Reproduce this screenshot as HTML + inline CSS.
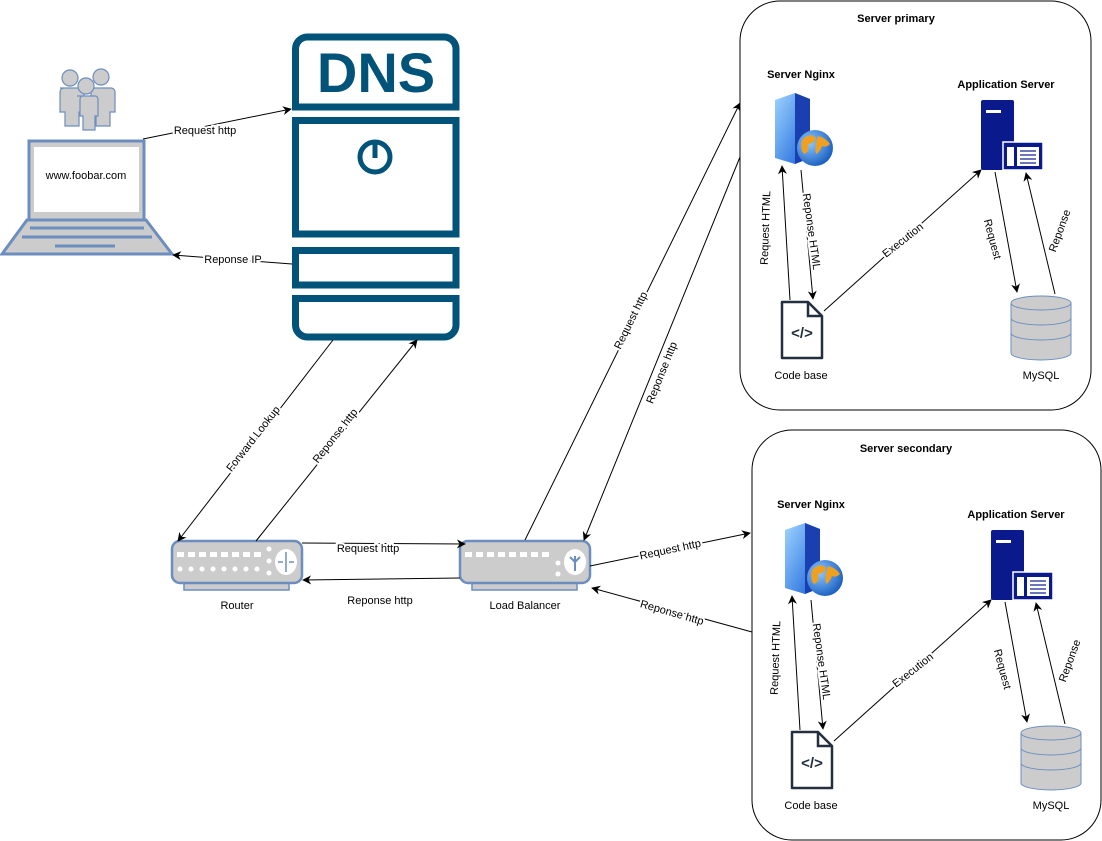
<!DOCTYPE html>
<html><head><meta charset="utf-8"><style>
html,body{margin:0;padding:0;background:#fff}
svg{display:block}
text{font-family:"Liberation Sans",sans-serif;font-size:11px;fill:#000}
.b{font-weight:bold}
.lb{paint-order:stroke;stroke:#fff;stroke-width:4px}
</style></head><body>
<svg width="1102" height="841" viewBox="0 0 1102 841" xmlns="http://www.w3.org/2000/svg">
<defs>
<marker id="a" viewBox="0 0 10 10" refX="9" refY="5" markerWidth="9" markerHeight="9" orient="auto" markerUnits="userSpaceOnUse">
<path d="M0,0 L10,5 L0,10 L3,5 z" fill="#000"/></marker>
<linearGradient id="tw" x1="0" y1="0" x2="1" y2="1"><stop offset="0" stop-color="#9fd4ff"/><stop offset="1" stop-color="#1560d8"/></linearGradient>
<radialGradient id="gl" cx="0.35" cy="0.35" r="0.7"><stop offset="0" stop-color="#8ec9ff"/><stop offset="1" stop-color="#1a5fc0"/></radialGradient>
</defs>

<!-- Users -->
<g fill="#ccc" stroke="#6c8ebf" stroke-width="1.2">
<circle cx="70" cy="78" r="8"/><path d="M60,88 h20 a4,4 0 0 1 4,4 v20 h-5 v14 h-14 v-14 h-5 v-20 a4,4 0 0 1 4,-4z"/>
<circle cx="101" cy="77" r="8"/><path d="M91,88 h20 a4,4 0 0 1 4,4 v20 h-5 v14 h-14 v-14 h-5 v-20 a4,4 0 0 1 4,-4z"/>
<circle cx="86" cy="86" r="8"/><path d="M77,96 h18 a3,3 0 0 1 3,3 v17 h-3 v14 h-12 v-14 h-3 v-17 a3,3 0 0 1 3,-3z"/>
</g>
<!-- Laptop -->
<g stroke="#6c8ebf" stroke-width="3" fill="#ccc">
<rect x="29" y="141" width="115" height="79"/>
<path d="M27,220 L146,220 L172,254 L2,254 Z"/>
</g>
<rect x="34" y="147" width="105" height="65" fill="#fff"/>
<g stroke="#6c8ebf" stroke-width="3"><line x1="30" y1="228" x2="144" y2="228"/><line x1="22" y1="237" x2="152" y2="237"/><line x1="55" y1="246" x2="115" y2="246"/></g>
<text x="86" y="179" text-anchor="middle">www.foobar.com</text>

<!-- DNS -->
<g fill="none" stroke="#02537a" stroke-width="7">
<path d="M295.5,107 V49 a12,12 0 0 1 12,-12 H444 a12,12 0 0 1 12,12 V107 Z"/>
<rect x="295.5" y="120.5" width="160.5" height="113.5"/>
<rect x="295.5" y="250.5" width="160.5" height="34.5"/>
<path d="M295.5,298.5 H456 V325 a12,12 0 0 1 -12,12 H307.5 a12,12 0 0 1 -12,-12 Z"/>
<circle cx="375" cy="157" r="15" stroke-width="5"/>
<line x1="375" y1="143" x2="375" y2="158" stroke-width="5"/>
</g>
<text x="376" y="92" text-anchor="middle" style="font-size:56px;font-weight:bold;fill:#02537a">DNS</text>

<!-- Router -->
<rect x="184" y="580" width="105" height="10" fill="#ccc" stroke="#6c8ebf" stroke-width="1.5"/>
<rect x="172" y="541" width="130" height="42" rx="8" fill="#ccc" stroke="#6c8ebf" stroke-width="2.5"/>
<g fill="#fff">
<rect x="177" y="552" width="7" height="5"/><rect x="188" y="552" width="7" height="5"/><rect x="199" y="552" width="7" height="5"/><rect x="210" y="552" width="7" height="5"/><rect x="221" y="552" width="7" height="5"/><rect x="232" y="552" width="7" height="5"/><rect x="243" y="552" width="7" height="5"/><rect x="254" y="552" width="7" height="5"/>
<circle cx="180" cy="569" r="2.5"/><circle cx="191" cy="569" r="2.5"/><circle cx="202" cy="569" r="2.5"/><circle cx="213" cy="569" r="2.5"/><circle cx="224" cy="569" r="2.5"/><circle cx="235" cy="569" r="2.5"/><circle cx="246" cy="569" r="2.5"/><circle cx="257" cy="569" r="2.5"/>
<circle cx="269" cy="549" r="2.5"/><circle cx="269" cy="561" r="2.5"/><circle cx="269" cy="573" r="2.5"/>
<ellipse cx="286" cy="562" rx="11" ry="13"/></g>
<g stroke="#6c8ebf" stroke-width="1.5" fill="none"><line x1="286" y1="552" x2="286" y2="572"/><path d="M278,562 h5 M294,562 h-5"/></g>
<text x="237" y="609" text-anchor="middle">Router</text>

<!-- Load Balancer -->
<rect x="472" y="580" width="105" height="10" fill="#ccc" stroke="#6c8ebf" stroke-width="1.5"/>
<rect x="460" y="541" width="130" height="42" rx="8" fill="#ccc" stroke="#6c8ebf" stroke-width="2.5"/>
<g fill="#fff">
<rect x="465" y="552" width="7" height="5"/><rect x="476" y="552" width="7" height="5"/><rect x="487" y="552" width="7" height="5"/><rect x="498" y="552" width="7" height="5"/><rect x="509" y="552" width="7" height="5"/><rect x="520" y="552" width="7" height="5"/><rect x="531" y="552" width="7" height="5"/><rect x="542" y="552" width="7" height="5"/>
<circle cx="558" cy="563" r="2.5"/><circle cx="558" cy="574" r="2.5"/>
<ellipse cx="575" cy="562" rx="11" ry="13"/></g>
<g stroke="#6c8ebf" stroke-width="2" fill="none"><line x1="575" y1="556" x2="575" y2="571"/><path d="M575,562 l-5,-5 M575,562 l5,-5"/></g>
<text x="525" y="609" text-anchor="middle">Load Balancer</text>

<!-- main edges -->
<g stroke="#000" stroke-width="1" fill="none">
<line x1="143" y1="139" x2="291" y2="109" marker-end="url(#a)"/>
<line x1="292" y1="264" x2="173" y2="255" marker-end="url(#a)"/>
<line x1="333" y1="340" x2="178" y2="541" marker-end="url(#a)"/>
<line x1="256" y1="541" x2="417" y2="340" marker-end="url(#a)"/>
<line x1="302" y1="543" x2="465" y2="544" marker-end="url(#a)"/>
<line x1="460" y1="578" x2="303" y2="580" marker-end="url(#a)"/>
<line x1="525" y1="540" x2="740" y2="103" marker-end="url(#a)"/>
<line x1="740" y1="157" x2="584" y2="540" marker-end="url(#a)"/>
<line x1="590" y1="566" x2="750" y2="533" marker-end="url(#a)"/>
<line x1="752" y1="632" x2="592" y2="588" marker-end="url(#a)"/>
</g>
<text class="lb" x="205" y="134" text-anchor="middle">Request http</text>
<text class="lb" x="233" y="263" text-anchor="middle">Reponse IP</text>
<text class="lb" transform="translate(256,441) rotate(-52)" text-anchor="middle">Forward Lookup</text>
<text class="lb" transform="translate(338,438) rotate(-52)" text-anchor="middle">Reponse http</text>
<text class="lb" x="368" y="552" text-anchor="middle">Request http</text>
<text class="lb" x="380" y="604" text-anchor="middle">Reponse http</text>
<text class="lb" transform="translate(634,322) rotate(-64)" text-anchor="middle">Request http</text>
<text class="lb" transform="translate(665,374) rotate(-68)" text-anchor="middle">Reponse http</text>
<text class="lb" transform="translate(671,553) rotate(-12)" text-anchor="middle">Request http</text>
<text class="lb" transform="translate(671,616) rotate(16)" text-anchor="middle">Reponse http</text>

<!-- Server primary -->
<g>
<rect x="740" y="1" width="351" height="409" rx="40" fill="none" stroke="#000" stroke-width="1"/>
<text class="b" x="896" y="22" text-anchor="middle">Server primary</text>
<text class="b" x="801" y="78" text-anchor="middle">Server Nginx</text>
<text class="b" x="1006" y="88" text-anchor="middle">Application Server</text>
<path d="M775,100 L795,93 L810,99 L810,158 L795,164 L775,158 Z" fill="url(#tw)"/>
<path d="M795,93 L810,99 L810,158 L795,164 Z" fill="#1a3fb0"/>
<circle cx="815" cy="148" r="18" fill="url(#gl)"/>
<path d="M802,140 q8,-8 14,-2 q-2,6 -8,6 q2,8 -4,10 q-4,-4 -2,-14z M818,136 q8,2 12,8 q-4,4 -8,2 q-2,6 -6,8 q-2,-8 2,-18z" fill="#f0a020"/>
<rect x="981" y="100" width="33" height="70" rx="2" fill="#0a1a8c"/>
<rect x="986" y="110" width="15" height="3" fill="#fff"/>
<rect x="1003" y="142" width="40" height="28" fill="#0a1a8c" stroke="#fff" stroke-width="1.5"/>
<rect x="1007" y="147" width="7" height="19" fill="#fff"/><rect x="1017" y="147" width="22" height="19" fill="#fff"/>
<g stroke="#0a1a8c" stroke-width="1.2"><line x1="1020" y1="151" x2="1036" y2="151"/><line x1="1020" y1="155" x2="1036" y2="155"/><line x1="1020" y1="159" x2="1036" y2="159"/><line x1="1020" y1="163" x2="1036" y2="163"/></g>
<path d="M782,302 H808 L822,316 V358 H782 Z" fill="#fff" stroke="#232f3e" stroke-width="2.5" stroke-linejoin="round"/>
<path d="M808,302 V316 H822" fill="none" stroke="#232f3e" stroke-width="2.5"/>
<text x="802" y="338" text-anchor="middle" style="font-size:15px;font-weight:bold;fill:#232f3e">&lt;/&gt;</text>
<text x="801" y="379" text-anchor="middle">Code base</text>
<g fill="#ccc" stroke="#6c8ebf" stroke-width="1">
<path d="M1011,303 v50 a30,7 0 0 0 60,0 v-50"/>
<ellipse cx="1041" cy="303" rx="30" ry="7"/>
<path d="M1011,318 a30,7 0 0 0 60,0 M1011,333 a30,7 0 0 0 60,0" fill="none"/>
</g>
<text x="1041" y="379" text-anchor="middle">MySQL</text>
<g stroke="#000" stroke-width="1" fill="none">
<line x1="790" y1="300" x2="782" y2="166" marker-end="url(#a)"/>
<line x1="801" y1="170" x2="813" y2="299" marker-end="url(#a)"/>
<line x1="824" y1="311" x2="981" y2="170" marker-end="url(#a)"/>
<line x1="995" y1="172" x2="1017" y2="292" marker-end="url(#a)"/>
<line x1="1055" y1="294" x2="1026" y2="173" marker-end="url(#a)"/>
</g>
<text class="lb" transform="translate(769,228) rotate(-88)" text-anchor="middle">Request HTML</text>
<text class="lb" transform="translate(808,232) rotate(82)" text-anchor="middle">Reponse HTML</text>
<text class="lb" transform="translate(905,243) rotate(-38)" text-anchor="middle">Execution</text>
<text class="lb" transform="translate(989,240) rotate(75)" text-anchor="middle">Request</text>
<text class="lb" transform="translate(1063,232) rotate(-70)" text-anchor="middle">Reponse</text>
</g>

<!-- Server secondary -->
<g transform="translate(10,430)">
<rect x="742" y="0" width="349" height="410" rx="40" fill="none" stroke="#000" stroke-width="1"/>
<text class="b" x="896" y="22" text-anchor="middle">Server secondary</text>
<text class="b" x="801" y="78" text-anchor="middle">Server Nginx</text>
<text class="b" x="1006" y="88" text-anchor="middle">Application Server</text>
<path d="M775,100 L795,93 L810,99 L810,158 L795,164 L775,158 Z" fill="url(#tw)"/>
<path d="M795,93 L810,99 L810,158 L795,164 Z" fill="#1a3fb0"/>
<circle cx="815" cy="148" r="18" fill="url(#gl)"/>
<path d="M802,140 q8,-8 14,-2 q-2,6 -8,6 q2,8 -4,10 q-4,-4 -2,-14z M818,136 q8,2 12,8 q-4,4 -8,2 q-2,6 -6,8 q-2,-8 2,-18z" fill="#f0a020"/>
<rect x="981" y="100" width="33" height="70" rx="2" fill="#0a1a8c"/>
<rect x="986" y="110" width="15" height="3" fill="#fff"/>
<rect x="1003" y="142" width="40" height="28" fill="#0a1a8c" stroke="#fff" stroke-width="1.5"/>
<rect x="1007" y="147" width="7" height="19" fill="#fff"/><rect x="1017" y="147" width="22" height="19" fill="#fff"/>
<g stroke="#0a1a8c" stroke-width="1.2"><line x1="1020" y1="151" x2="1036" y2="151"/><line x1="1020" y1="155" x2="1036" y2="155"/><line x1="1020" y1="159" x2="1036" y2="159"/><line x1="1020" y1="163" x2="1036" y2="163"/></g>
<path d="M782,302 H808 L822,316 V358 H782 Z" fill="#fff" stroke="#232f3e" stroke-width="2.5" stroke-linejoin="round"/>
<path d="M808,302 V316 H822" fill="none" stroke="#232f3e" stroke-width="2.5"/>
<text x="802" y="338" text-anchor="middle" style="font-size:15px;font-weight:bold;fill:#232f3e">&lt;/&gt;</text>
<text x="801" y="379" text-anchor="middle">Code base</text>
<g fill="#ccc" stroke="#6c8ebf" stroke-width="1">
<path d="M1011,303 v50 a30,7 0 0 0 60,0 v-50"/>
<ellipse cx="1041" cy="303" rx="30" ry="7"/>
<path d="M1011,318 a30,7 0 0 0 60,0 M1011,333 a30,7 0 0 0 60,0" fill="none"/>
</g>
<text x="1041" y="379" text-anchor="middle">MySQL</text>
<g stroke="#000" stroke-width="1" fill="none">
<line x1="790" y1="300" x2="782" y2="166" marker-end="url(#a)"/>
<line x1="801" y1="170" x2="813" y2="299" marker-end="url(#a)"/>
<line x1="824" y1="311" x2="981" y2="170" marker-end="url(#a)"/>
<line x1="995" y1="172" x2="1017" y2="292" marker-end="url(#a)"/>
<line x1="1055" y1="294" x2="1026" y2="173" marker-end="url(#a)"/>
</g>
<text class="lb" transform="translate(769,228) rotate(-88)" text-anchor="middle">Request HTML</text>
<text class="lb" transform="translate(808,232) rotate(82)" text-anchor="middle">Reponse HTML</text>
<text class="lb" transform="translate(905,243) rotate(-38)" text-anchor="middle">Execution</text>
<text class="lb" transform="translate(989,240) rotate(75)" text-anchor="middle">Request</text>
<text class="lb" transform="translate(1063,232) rotate(-70)" text-anchor="middle">Reponse</text>
</g>
</svg>
</body></html>
